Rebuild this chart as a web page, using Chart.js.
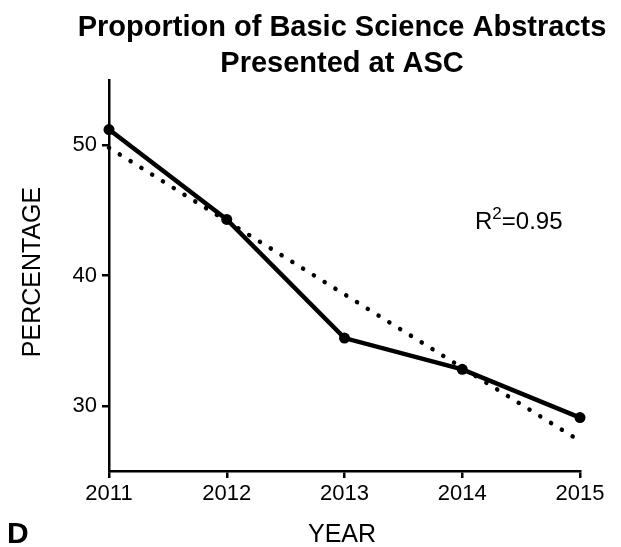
<!DOCTYPE html>
<html>
<head>
<meta charset="utf-8">
<script src="https://cdn.jsdelivr.net/npm/chart.js@4"></script>
<style>
  html, body { margin: 0; padding: 0; background: #fff; }
  #wrap { width: 621px; height: 547px; }
</style>
</head>
<body>
<div id="wrap"><canvas id="chart" width="621" height="547"></canvas></div>
<script>
// ================= DATA =================

const years = [2011, 2012, 2013, 2014, 2015];
const percentage = [51.2, 44.3, 35.2, 32.8, 29.1];

// linear fit (end points)
const trendYears = [2011, 2015];
const trendValues = [49.8, 27.3];

const yTicks = [30, 40, 50];

const titleLines = ["Proportion of Basic Science Abstracts", "Presented at ASC"];
const rSquared = "0.95";

const FONT = "'Liberation Sans', Arial, Helvetica, sans-serif";

// ================= EXTRA TEXT =================

const textPlugin = {
    id: "textPlugin",
    afterDraw(chart) {
        const ctx = chart.ctx;
        const cx = 342;

        ctx.save();
        ctx.fillStyle = "#000";
        ctx.textAlign = "center";
        ctx.textBaseline = "alphabetic";

        // title
        ctx.font = "bold 29px " + FONT;
        ctx.fillText(titleLines[0], cx, 36);
        ctx.fillText(titleLines[1], cx, 72);

        // axis titles
        ctx.font = "25px " + FONT;
        ctx.fillText("YEAR", cx, 542);

        ctx.save();
        ctx.translate(40, 272);
        ctx.rotate(-Math.PI / 2);
        ctx.fillText("PERCENTAGE", 0, 0);
        ctx.restore();

        // panel letter
        ctx.textAlign = "left";
        ctx.font = "bold 30px " + FONT;
        ctx.fillText("D", 7, 543);

        // R squared
        ctx.font = "24px " + FONT;
        let x = 475, y = 229;
        ctx.fillText("R", x, y);
        x += ctx.measureText("R").width;
        ctx.font = "17px " + FONT;
        ctx.fillText("2", x, y - 10);
        x += ctx.measureText("2").width;
        ctx.font = "24px " + FONT;
        ctx.fillText("=" + rSquared, x, y);

        ctx.restore();
    }
};

// ================= CHART =================

new Chart(document.getElementById("chart"), {

    type: "line",

    data: {
        datasets: [
            {
                label: "Percentage",
                data: years.map((yr, i) => ({ x: yr, y: percentage[i] })),
                borderColor: "#000",
                backgroundColor: "#000",
                borderWidth: 4.5,
                pointRadius: 5.5,
                pointBorderWidth: 0,
                tension: 0,
                clip: false
            },
            {
                label: "Trend",
                data: trendYears.map((yr, i) => ({ x: yr, y: trendValues[i] })),
                borderColor: "#000",
                borderWidth: 4.5,
                borderDash: [0.1, 12.6],
                borderCapStyle: "round",
                pointRadius: 0,
                tension: 0,
                clip: false
            }
        ]
    },

    options: {
        responsive: false,
        animation: false,
        layout: {
            padding: { left: 49, right: 41, top: 80, bottom: 36 }
        },
        plugins: {
            legend: { display: false },
            title: { display: false },
            tooltip: { enabled: false }
        },
        scales: {
            x: {
                type: "linear",
                min: 2011,
                max: 2015,
                afterFit: s => { s.height = 40; },
                afterBuildTicks: s => { s.ticks = years.map(v => ({ value: v })); },
                ticks: {
                    color: "#000",
                    font: { family: FONT, size: 22 },
                    padding: 3,
                    callback: v => String(v)
                },
                grid: {
                    drawOnChartArea: false,
                    drawTicks: true,
                    tickLength: 7,
                    color: "#000",
                    lineWidth: 2.5
                },
                border: { display: true, color: "#000", width: 2.5 }
            },
            y: {
                min: 25,
                max: 55,
                afterFit: s => { s.width = 60; },
                afterBuildTicks: s => { s.ticks = yTicks.map(v => ({ value: v })); },
                ticks: {
                    color: "#000",
                    font: { family: FONT, size: 22 },
                    padding: 5
                },
                grid: {
                    drawOnChartArea: false,
                    drawTicks: true,
                    tickLength: 7,
                    color: "#000",
                    lineWidth: 2.5
                },
                border: { display: true, color: "#000", width: 2.5 }
            }
        }
    },

    plugins: [textPlugin]

});
</script>
</body>
</html>
